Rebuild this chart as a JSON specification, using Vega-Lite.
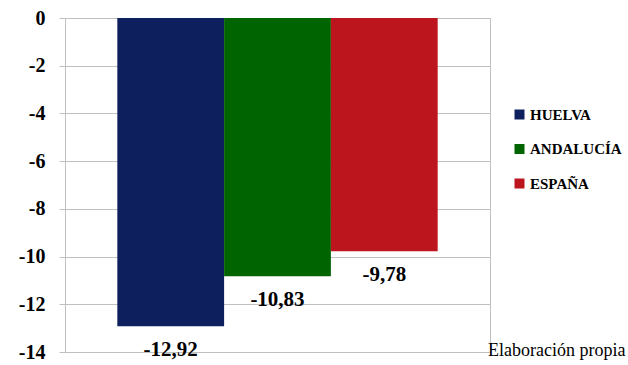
{
  "$schema": "https://vega.github.io/schema/vega-lite/v6.json",
  "width": 425,
  "height": 334,
  "autosize": {"type": "none"},
  "padding": {"left": 65, "top": 18, "right": 138, "bottom": 13},
  "background": "white",
  "config": {
    "view": {"stroke": "#c0c0c0", "strokeWidth": 1},
    "locale": {
      "number": {"decimal": ",", "thousands": ".", "grouping": [3], "currency": ["", " €"], "minus": "-"}
    },
    "font": "Liberation Serif"
  },
  "data": {
    "values": [
      {"region": "HUELVA", "value": -12.92},
      {"region": "ANDALUCÍA", "value": -10.83},
      {"region": "ESPAÑA", "value": -9.78}
    ]
  },
  "encoding": {
    "x": {
      "field": "region",
      "type": "nominal",
      "sort": null,
      "scale": {"paddingInner": 0, "paddingOuter": 0.49},
      "axis": {
        "labels": false,
        "ticks": false,
        "domain": false,
        "title": "Elaboración propia",
        "titleFont": "Liberation Serif",
        "titleFontWeight": "normal",
        "titleFontSize": 18,
        "titleColor": "#000000",
        "titleAnchor": null,
        "titleAlign": "right",
        "titleBaseline": "alphabetic",
        "titleX": 560,
        "titleY": 3
      }
    },
    "y": {
      "field": "value",
      "type": "quantitative",
      "scale": {"domain": [-14, 0], "nice": false, "zero": true},
      "axis": {
        "title": null,
        "values": [-14, -12, -10, -8, -6, -4, -2, 0],
        "format": "d",
        "grid": true,
        "gridColor": "#c0c0c0",
        "gridWidth": 1,
        "domainColor": "#c0c0c0",
        "tickColor": "#c0c0c0",
        "tickSize": 6,
        "labelPadding": 14,
        "labelFont": "Liberation Serif",
        "labelFontWeight": "bold",
        "labelFontSize": 20,
        "labelColor": "#000000"
      }
    }
  },
  "layer": [
    {
      "mark": {"type": "bar"},
      "encoding": {
        "color": {
          "field": "region",
          "type": "nominal",
          "sort": null,
          "scale": {
            "domain": ["HUELVA", "ANDALUCÍA", "ESPAÑA"],
            "range": ["#0E1F5E", "#006400", "#BD151D"]
          },
          "legend": {
            "title": null,
            "orient": "none",
            "legendX": 447,
            "legendY": 89,
            "padding": 0,
            "symbolType": "square",
            "symbolSize": 100,
            "symbolStrokeWidth": 0,
            "labelFont": "Liberation Serif",
            "labelFontWeight": "bold",
            "labelFontSize": 15,
            "labelColor": "#000000",
            "labelOffset": 3,
            "rowPadding": 18.5
          }
        }
      }
    },
    {
      "mark": {
        "type": "text",
        "dy": 24,
        "baseline": "middle",
        "align": "center",
        "font": "Liberation Serif",
        "fontWeight": "bold",
        "fontSize": 21,
        "color": "#000000"
      },
      "encoding": {
        "text": {"field": "value", "type": "quantitative", "format": ".2f"}
      }
    }
  ]
}
